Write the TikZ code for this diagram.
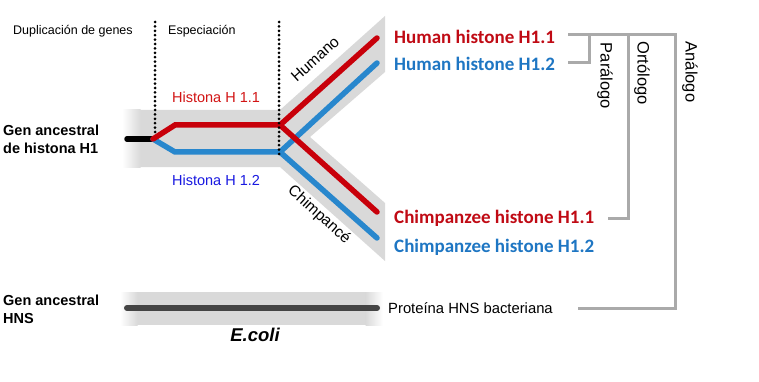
\documentclass[tikz,border=0pt]{standalone}
\usepackage{fontspec}
\setmainfont{Liberation Sans}
\newfontfamily\carl{Carlito}
\usetikzlibrary{calc}
\definecolor{bandgray}{RGB}{217,217,217}
\definecolor{brgray}{RGB}{170,170,170}
\definecolor{linered}{RGB}{200,0,10}
\definecolor{lineblue}{RGB}{40,135,205}
\definecolor{txtred}{RGB}{192,10,20}
\definecolor{txtblue}{RGB}{30,118,195}
\definecolor{hblue}{RGB}{25,25,225}
\definecolor{hred}{RGB}{210,20,20}
\definecolor{darkline}{RGB}{68,68,68}
\tikzset{
  lbl/.style={inner sep=0pt, font=\fontsize{12.5}{15}\selectfont},
  histlbl/.style={inner sep=0pt, font=\fontsize{14.5}{17}\selectfont},
  genlbl/.style={inner sep=0pt, font=\fontsize{14.5}{18}\selectfont\bfseries, align=left, anchor=west},
  sidelbl/.style={inner sep=0pt, font=\fontsize{19}{22}\selectfont\carl\bfseries, anchor=west},
  rellbl/.style={inner sep=0pt, font=\fontsize{16.5}{19}\selectfont, rotate=-90},
  armlbl/.style={inner sep=0pt, font=\fontsize{15.5}{18}\selectfont},
  bracket/.style={draw=brgray, line width=3pt},
  gene/.style={line width=5.5pt, line cap=round},
  sep/.style={line width=3pt, dash pattern=on 0pt off 4.4pt, line cap=round}
}
\begin{document}
\begin{tikzpicture}[x=1pt,y=-1pt]
\useasboundingbox[fill=white] (0,0) rectangle (759,382);
% gray bands
\fill[bandgray] (140,110) -- (280,110) -- (385,16) -- (385,72) -- (310,137) -- (385,203) -- (385,261) -- (280,167) -- (140,167) -- cycle;
\shade[left color=white, right color=bandgray] (122,110) rectangle (140.5,167);
\fill[bandgray] (137,292) rectangle (366,325);
\shade[left color=white, right color=bandgray] (120,292) rectangle (137.5,325);
\shade[left color=bandgray, right color=white] (365.5,292) rectangle (383,325);
% named points of the tree
\coordinate (root) at (127,139);
\coordinate (dup) at (153,139);
\coordinate (r1) at (175,125);
\coordinate (r2) at (280,125);
\coordinate (b1) at (175,152);
\coordinate (b2) at (280,152);
\coordinate (rh) at (377,38);
\coordinate (bh) at (377,63);
\coordinate (rc) at (377,212);
\coordinate (bc) at (377,238);
% lines
\draw[gene, black] (root) -- (dup);
\draw[gene, lineblue] (dup) -- (b1) -- (b2) -- (bh);
\draw[gene, lineblue] (b2) -- (bc);
\draw[gene, linered] (dup) -- (r1) -- (r2) -- (rh);
\draw[gene, linered] (r2) -- (rc);
% E. coli line
\coordinate (e1) at (127,308);
\coordinate (e2) at (377,308);
\draw[gene, darkline, line width=6pt] (e1) -- (e2);
% dotted separators
\coordinate (d1t) at (155,22);
\coordinate (d1b) at (155,133);
\coordinate (d2t) at (279,22);
\coordinate (d2b) at (279,157);
\draw[sep] (d1t) -- (d1b);
\draw[sep] (d2t) -- (d2b);
% texts
\node[lbl, anchor=west] (dupl) at (13,31) {Duplicación de genes};
\node[lbl, anchor=west] (espe) at (168,31) {Especiación};
\node[histlbl, text=hred] (h11) at (216,97) {Histona H 1.1};
\node[histlbl, text=hblue] (h12) at (216,180) {Histona H 1.2};
\node[genlbl] (gah) at (3,139) {Gen ancestral\\de histona H1};
\node[genlbl] (gahns) at (3,309) {Gen ancestral\\HNS};
\node[inner sep=0pt, font=\fontsize{18.5}{20}\selectfont\bfseries\itshape] (ecoli) at (255,335) {E.coli};
\node[armlbl, rotate=42] (hum) at (315,59) {Humano};
\node[armlbl, rotate=-42] (chi) at (319,215) {Chimpancé};
\node[sidelbl, text=txtred] (hh1) at (394,37) {Human histone H1.1};
\node[sidelbl, text=txtblue] (hh2) at (394,64) {Human histone H1.2};
\node[sidelbl, text=txtred] (ch1) at (394,218) {Chimpanzee histone H1.1};
\node[sidelbl, text=txtblue] (ch2) at (394,247) {Chimpanzee histone H1.2};
\node[inner sep=0pt, anchor=west, font=\fontsize{14.8}{17}\selectfont] (hns) at (388,308) {Proteína HNS bacteriana};
\node[rellbl] (para) at (605,76) {Parálogo};
\node[rellbl] (orto) at (642,73) {Ortólogo};
\node[rellbl] (ana) at (690,72) {Análogo};
% brackets
\coordinate (t0) at (568,35);
\coordinate (tp) at (589,35);
\coordinate (to) at (628,35);
\coordinate (ta) at (675,35);
\coordinate (p2) at (568,63);
\coordinate (o2) at (608,218);
\coordinate (a2) at (578,308);
\draw[bracket] (t0) -- (ta) -- (ta |- a2) -- (a2);
\draw[bracket] (tp) -- (tp |- p2) -- (p2);
\draw[bracket] (to) -- (to |- o2) -- (o2);
\end{tikzpicture}
\end{document}
